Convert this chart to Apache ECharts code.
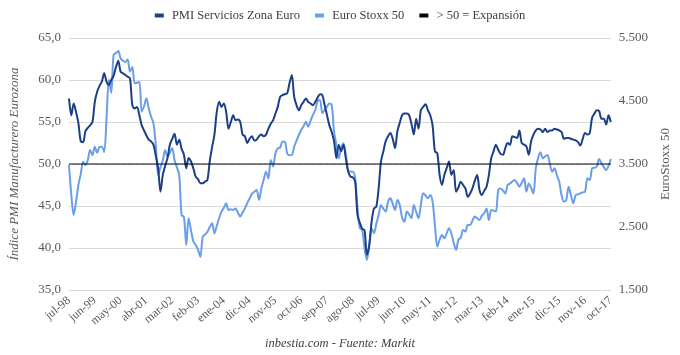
<!DOCTYPE html>
<html><head><meta charset="utf-8">
<script src="https://cdn.jsdelivr.net/npm/echarts@6/dist/echarts.min.js"></script>
<style>html,body{margin:0;padding:0;background:#fff}#c{width:680px;height:355px}</style>
</head><body><div id="c"></div>
<script>
const monthNames = ['ene','feb','mar','abr','may','jun','jul','ago','sep','oct','nov','dic'];
const startYear = 1998, startMonth = 6, nMonths = 232;
const categories = [];
for (let i = 0; i < nMonths; i++) {
  const m = (startMonth + i) % 12, y = startYear + Math.floor((startMonth + i) / 12);
  categories.push(monthNames[m] + '-' + String(y % 100).padStart(2, '0'));
}
const pmiServicios = [
57.8,55.8,57.2,56.2,54.9,52.7,52.6,53.9,54.3,54.6,55.0,57.4,58.6,59.3,59.8,60.8,59.8,59.4,60.0,60.5,
61.5,62.3,61.0,60.8,60.6,60.4,60.2,57.0,56.6,56.8,55.8,54.6,54.0,53.4,52.9,52.7,52.3,51.0,49.5,46.7,
48.7,49.8,50.7,52.3,53.0,53.6,52.3,52.9,51.8,51.1,49.5,50.7,50.3,49.5,48.5,48.2,47.7,47.7,47.9,48.1,
50.3,52.0,53.5,56.2,57.4,56.8,57.2,56.2,54.2,55.0,55.8,55.2,55.3,55.0,53.5,53.3,52.5,53.0,53.3,52.8,
52.9,53.3,53.5,53.3,53.5,54.2,54.8,55.2,56.0,56.8,58.0,58.2,58.3,58.4,59.6,60.6,58.0,57.0,56.4,57.0,
57.4,57.8,57.4,57.2,57.0,57.4,57.9,58.3,58.2,57.0,55.8,54.6,53.8,52.7,50.7,52.3,51.5,52.3,50.7,49.1,
48.5,48.4,47.9,43.9,43.0,42.3,42.1,39.2,40.3,43.1,44.7,44.9,47.1,50.3,51.5,52.7,53.3,53.7,53.0,51.9,
53.9,54.9,55.8,56.0,56.0,55.8,54.8,53.5,55.4,54.2,56.4,56.8,57.1,56.4,55.8,54.6,51.5,51.3,48.7,47.5,
48.7,49.5,50.3,48.7,49.3,46.7,47.2,47.9,47.5,47.1,46.1,46.5,47.1,48.0,48.7,46.9,46.3,46.8,47.3,48.7,
50.7,51.5,52.3,51.7,51.2,51.1,51.9,52.5,52.3,53.3,53.2,53.1,54.0,52.5,52.3,52.1,51.1,52.7,53.5,54.0,
54.2,54.1,53.8,54.2,53.8,54.0,54.0,54.2,54.1,54.0,53.8,53.0,53.1,53.1,53.0,52.9,52.8,52.6,52.2,53.0,
53.7,53.5,53.7,55.5,56.0,56.4,56.3,55.4,55.4,54.7,55.8,55.0
];
const euroStoxx = [
3484,3000,2690,2900,3167,3340,3537,3484,3560,3722,3640,3775,3680,3769,3775,3690,4225,4833,4630,5230,
5260,5293,5175,5140,5120,5160,4966,5040,4780,4790,4800,4330,4420,4543,4380,4250,4146,3800,3325,3450,
3560,3722,3617,3680,3750,3560,3450,3325,2690,2660,2214,2638,2450,2270,2214,2140,2024,2346,2380,2425,
2500,2560,2400,2520,2638,2745,2800,2876,2770,2780,2770,2795,2730,2665,2730,2795,2880,2955,3030,3060,
3087,2930,3110,3250,3378,3270,3563,3460,3670,3749,3760,3855,3855,3670,3640,3643,3775,3870,3960,4040,
4100,4171,4093,4190,4278,4357,4500,4516,4305,4360,4410,4460,4437,4013,3800,3590,3750,3829,3650,3400,
3378,3378,3273,2797,2480,2453,2161,1976,2214,2480,2400,2550,2690,2850,2790,2745,2900,2955,2870,2770,
2930,2850,2650,2584,2745,2700,2638,2850,2740,2638,2850,3035,3000,2955,3008,2902,2532,2188,2300,2373,
2320,2400,2479,2400,2250,2135,2300,2330,2453,2426,2532,2532,2600,2665,2640,2610,2680,2717,2795,2610,
2770,2760,2745,3087,3110,3080,3030,3167,3190,3220,3246,3200,3140,3200,3273,3060,3190,3120,3030,3432,
3600,3686,3590,3620,3643,3500,3378,3432,3320,3220,3000,2902,2930,3140,3000,2876,3008,3020,3035,3050,
3060,3273,3246,3432,3440,3458,3580,3510,3450,3405,3470,3580
];
const expansionLevel = 50;
const expansionLine = categories.map(() => expansionLevel);

const font = "'Liberation Serif', 'Times New Roman', serif";
const chart = echarts.init(document.getElementById('c'), null, {renderer: 'canvas'});
chart.setOption({
  animation: false,
  textStyle: {fontFamily: font},
  legend: {
    top: 4, left: 'center', itemWidth: 9, itemHeight: 4, itemGap: 15,
    icon: 'rect',
    formatter: n => ' ' + n,
    textStyle: {fontFamily: font, fontSize: 12.5, color: '#404040'},
    data: ['PMI Servicios Zona Euro', 'Euro Stoxx 50', '> 50 = Expansión']
  },
  grid: {left: 63, right: 68, top: 38, bottom: 65},
  title: {
    text: 'inbestia.com - Fuente: Markit', left: 'center', bottom: 0,
    textStyle: {fontFamily: font, fontSize: 12.5, fontStyle: 'italic', fontWeight: 'normal', color: '#404040'}
  },
  xAxis: {
    type: 'category', data: categories, boundaryGap: false,
    axisLine: {show: false}, axisTick: {show: false},
    axisLabel: {interval: 10, rotate: 40, fontFamily: font, fontSize: 12, color: '#595959', margin: 9}
  },
  yAxis: [{
    type: 'value', min: 35, max: 65, interval: 5,
    name: 'Índice PMI Manufacturero Eurozona', nameLocation: 'middle', nameGap: 48, nameRotate: 90,
    nameTextStyle: {fontFamily: font, fontSize: 13, fontStyle: 'italic', color: '#595959'},
    axisLine: {show: false}, axisTick: {show: false},
    axisLabel: {fontFamily: font, fontSize: 13, color: '#595959', margin: 8,
      formatter: v => v.toFixed(1).replace('.', ',')},
    splitLine: {lineStyle: {color: '#d9d9d9', width: 1}}
  }, {
    type: 'value', min: 1500, max: 5500, interval: 1000,
    name: 'EuroStoxx 50', nameLocation: 'middle', nameGap: 48, nameRotate: 90,
    nameTextStyle: {fontFamily: font, fontSize: 13, color: '#595959'},
    axisLine: {show: false}, axisTick: {show: false},
    axisLabel: {fontFamily: font, fontSize: 13, color: '#595959', margin: 8,
      formatter: v => String(v).replace(/\B(?=(\d{3})+(?!\d))/g, '.')},
    splitLine: {show: false}
  }],
  series: [{
    name: 'PMI Servicios Zona Euro', type: 'line', data: pmiServicios, yAxisIndex: 0,
    showSymbol: false, smooth: 0.3, z: 4,
    lineStyle: {color: '#1c3f85', width: 2}, itemStyle: {color: '#1c3f85'}
  }, {
    name: 'Euro Stoxx 50', type: 'line', data: euroStoxx, yAxisIndex: 1,
    showSymbol: false, smooth: 0.3, z: 3,
    lineStyle: {color: '#6a9ee8', width: 2}, itemStyle: {color: '#6a9ee8'}
  }, {
    name: '> 50 = Expansión', type: 'line', data: expansionLine, yAxisIndex: 0,
    showSymbol: false, z: 5,
    lineStyle: {color: '#000', width: 1}, itemStyle: {color: '#000'}
  }]
});
</script></body></html>
